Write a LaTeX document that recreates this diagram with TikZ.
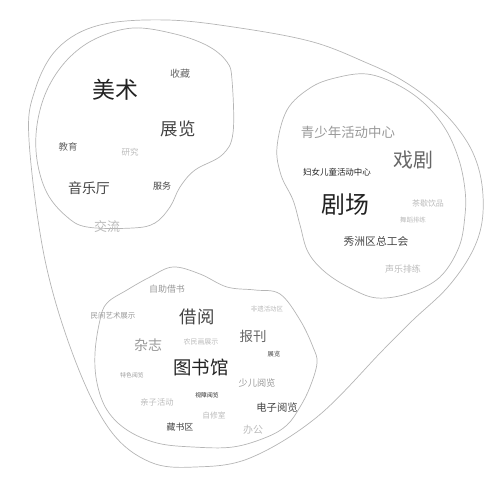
\documentclass[tikz,border=0pt]{standalone}
\usepackage{fontspec}
\newfontfamily\cjk{Noto Sans CJK SC}
\newcommand{\fsz}[1]{\fontsize{#1}{#1}\selectfont}
\definecolor{ink1}{HTML}{222222}
\definecolor{ink2}{HTML}{444444}
\definecolor{ink3}{HTML}{666666}
\definecolor{ink4}{HTML}{999999}
\definecolor{ink5}{HTML}{BBBBBB}
\definecolor{linec}{HTML}{B5B5B5}
\tikzset{
  lbl/.style={inner sep=0pt, font=\cjk},
  blob/.style={draw=linec, line width=0.7bp},
}
\begin{document}
\begin{tikzpicture}[x=1bp,y=-1bp]
\useasboundingbox (0,0) rectangle (496,480);
% outer blob
\draw[blob] plot[smooth cycle, tension=0.6] coordinates {
 (29,140) (45,260) (75,360) (110,430) (150,462) (195,467) (250,458) (317,417)
 (383,350) (413,320) (447,288) (471,254) (482,222) (482,185) (473,153) (455,125)
 (430,100) (400,79) (367,63) (313,42) (240,28)
 (167,20) (100,25) (58,48) (35,90)};
% left blob
\draw[blob] plot[smooth cycle, tension=0.6] coordinates {
 (133,28) (175,34) (208,46) (227,62) (232,80) (233,133) (222,155) (195,170)
 (180,187) (170,207) (155,223) (133,228) (87,227) (66,216) (47,193) (37,160)
 (37,125) (47,90) (67,60) (95,39)};
% right blob
\draw[blob] plot[smooth cycle, tension=0.6] coordinates {
 (335,78) (367,74) (398,85) (425,104) (446,130) (459,160) (465,190) (465,215)
 (459,247) (440,277) (410,293) (377,298) (350,288) (325,272) (308,252) (300,225)
 (293,200) (281,175) (277,147) (287,110) (310,88)};
% bottom blob
\draw[blob] plot[smooth cycle, tension=0.6] coordinates {
 (173,267) (200,274) (227,287) (255,290) (280,294) (300,320) (313,347) (317,363)
 (310,387) (300,407) (287,425) (267,437) (233,447) (193,447) (157,443) (127,430)
 (107,410) (97,383) (95,353) (100,320) (107,303) (127,290) (150,277)};
% left blob texts
\node[lbl, font=\cjk\fsz{10}, text=ink3] (shoucang) at (180,74) {收藏};
\node[lbl, font=\cjk\fsz{23}, text=ink1] (meishu) at (115,90) {美术};
\node[lbl, font=\cjk\fsz{17.5}, text=ink2] (zhanlan) at (178,129) {展览};
\node[lbl, font=\cjk\fsz{9.5}, text=ink3] (jiaoyu) at (68,147) {教育};
\node[lbl, font=\cjk\fsz{8.5}, text=ink5] (yanjiu) at (130,152) {研究};
\node[lbl, font=\cjk\fsz{14}, text=ink2] (yinyueting) at (89,188) {音乐厅};
\node[lbl, font=\cjk\fsz{9}, text=ink2] (fuwu) at (162,186) {服务};
\node[lbl, font=\cjk\fsz{13}, text=ink5] (jiaoliu) at (107,227) {交流};
% right blob texts
\node[lbl, font=\cjk\fsz{13.5}, text=ink4] (qingshaonian) at (348,132) {青少年活动中心};
\node[lbl, font=\cjk\fsz{20}, text=ink3] (xiju) at (413,160) {戏剧};
\node[lbl, font=\cjk\fsz{8.5}, text=ink1] (funv) at (337,172) {妇女儿童活动中心};
\node[lbl, font=\cjk\fsz{24}, text=ink1] (juchang) at (345,205) {剧场};
\node[lbl, font=\cjk\fsz{8}, text=ink5] (chaxie) at (428,203) {茶歇饮品};
\node[lbl, font=\cjk\fsz{6.5}, text=ink5] (wudao) at (413,220) {舞蹈排练};
\node[lbl, font=\cjk\fsz{10.8}, text=ink2] (gonghui) at (376,241) {秀洲区总工会};
\node[lbl, font=\cjk\fsz{9}, text=ink5] (shengyue) at (403,269) {声乐排练};
% bottom blob texts
\node[lbl, font=\cjk\fsz{9}, text=ink4] (zizhu) at (167,289) {自助借书};
\node[lbl, font=\cjk\fsz{7.5}, text=ink4] (minjian) at (113,316) {民间艺术展示};
\node[lbl, font=\cjk\fsz{17.5}, text=ink2] (jieyue) at (197,317) {借阅};
\node[lbl, font=\cjk\fsz{6.5}, text=ink5] (feiyi) at (267,309) {非遗活动区};
\node[lbl, font=\cjk\fsz{13.5}, text=ink3] (baokan) at (253,336) {报刊};
\node[lbl, font=\cjk\fsz{14}, text=ink4] (zazhi) at (148,345) {杂志};
\node[lbl, font=\cjk\fsz{7}, text=ink5] (nongmin) at (201,342) {农民画展示};
\node[lbl, font=\cjk\fsz{6.3}, text=ink2] (zhanlan2) at (274,354) {展览};
\node[lbl, font=\cjk\fsz{18.5}, text=ink1] (tushuguan) at (201,367) {图书馆};
\node[lbl, font=\cjk\fsz{5.8}, text=ink4] (tese) at (132,375) {特色阅览};
\node[lbl, font=\cjk\fsz{9.2}, text=ink4] (shaoer) at (257,383) {少儿阅览};
\node[lbl, font=\cjk\fsz{5.8}, text=ink1] (shizhang) at (207,395) {视障阅览};
\node[lbl, font=\cjk\fsz{8.3}, text=ink5] (qinzi) at (157,402) {亲子活动};
\node[lbl, font=\cjk\fsz{10.4}, text=ink2] (dianzi) at (277,408) {电子阅览};
\node[lbl, font=\cjk\fsz{7.8}, text=ink5] (zixiu) at (214,416) {自修室};
\node[lbl, font=\cjk\fsz{9}, text=ink2] (cangshu) at (180,427) {藏书区};
\node[lbl, font=\cjk\fsz{10}, text=ink5] (bangong) at (253,430) {办公};
\end{tikzpicture}
\end{document}
